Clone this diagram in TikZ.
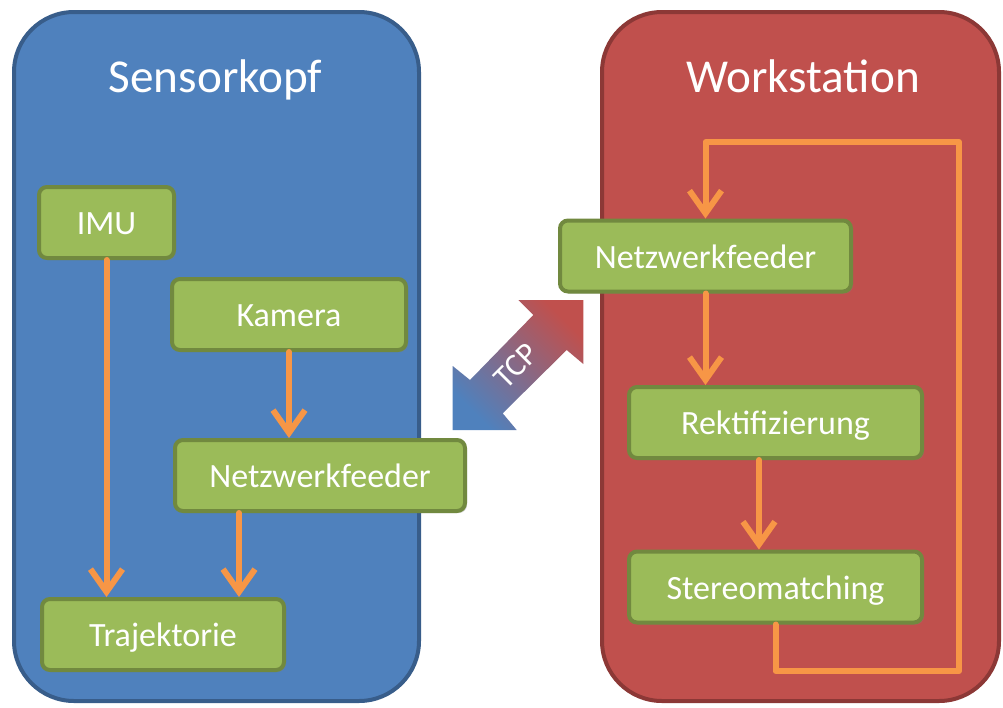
\documentclass[tikz,border=0pt]{standalone}
\usepackage{fontspec}
\setmainfont{Carlito}
\usetikzlibrary{arrows.meta,shadows}
\definecolor{cblue}{HTML}{4F81BD}
\definecolor{cblueD}{HTML}{385D8A}
\definecolor{cred}{HTML}{C0504D}
\definecolor{credD}{HTML}{8C3836}
\definecolor{cgreen}{HTML}{9BBB59}
\definecolor{cgreenD}{HTML}{71893F}
\definecolor{corange}{HTML}{F79646}
\begin{document}
\begin{tikzpicture}[x=0.75pt,y=-0.75pt,
  container/.style={line width=3pt, rounded corners=45pt},
  box/.style={draw=cgreenD, fill=cgreen, line width=3pt, rounded corners=6pt,
    text=white, font=\fontsize{25.5}{30}\selectfont, text height=18.4pt, text depth=0pt,
    inner sep=0pt, minimum height=53.25pt,
    drop shadow={opacity=0.3, shadow xshift=1.5pt, shadow yshift=-1.5pt}},
  flow/.style={draw=corange, line width=4.5pt, -{Straight Barb[length=17pt,width=24pt]},
    line join=round, line cap=round},
  title/.style={text=white, font=\fontsize{35.4}{40}\selectfont, anchor=base}]
\useasboundingbox (0,0) rectangle (1003,707);

% containers
\draw[container, fill=cblue, draw=cblueD] (14,12) rectangle (419,701);
\draw[container, fill=cred, draw=credD] (602,12) rectangle (999,701);
\node[title] (t1) at (215.5,92) {Sensorkopf};
\node[title] (t2) at (803,92) {Workstation};

% TCP double arrow
\shade[top color=cred, bottom color=cblue, shading angle=-45]
  (452.7,430) -- (452.7,366) -- (470,380) -- (533.3,315) -- (518.3,300)
  -- (583.3,300) -- (583.3,364) -- (566.7,350) -- (502.7,413.3)
  -- (516.7,430) -- cycle;
\node[text=white, rotate=45, inner sep=0pt, font=\fontsize{24}{28}\selectfont] (tcp) at (516,366) {TCP};

% boxes
\node[box, minimum width=101.25pt] (imu) at (106.5,222.5) {IMU};
\node[box, minimum width=175.5pt] (kam) at (289,314.5) {Kamera};
\node[box, minimum width=217.5pt] (nfl) at (320,475.5) {Netzwerkfeeder};
\node[box, minimum width=181.5pt] (traj) at (163,634.5) {Trajektorie};
\node[box, minimum width=218.25pt] (nfr) at (705.5,256) {Netzwerkfeeder};
\node[box, minimum width=219.75pt] (rekt) at (775.5,422.5) {Rektifizierung};
\node[box, minimum width=219.75pt] (stereo) at (775.5,587) {Stereomatching};

% flows
\coordinate (nfo) at ([xshift=-60.75pt]nfl.south);
\coordinate (rko) at ([xshift=-12.4pt]rekt.south);
\coordinate (loopA) at (959,671);
\coordinate (loopB) at (959,142);
\draw[flow] (imu.south) -- (imu.south |- traj.north);
\draw[flow] (kam.south) -- (kam.south |- nfl.north);
\draw[flow] (nfo) -- (nfo |- traj.north);
\draw[flow] (nfr.south) -- (nfr.south |- rekt.north);
\draw[flow] (rko) -- (rko |- stereo.north);
\draw[flow] (stereo.south) |- (loopA) -- (loopB) -| (nfr.north);
\end{tikzpicture}
\end{document}
